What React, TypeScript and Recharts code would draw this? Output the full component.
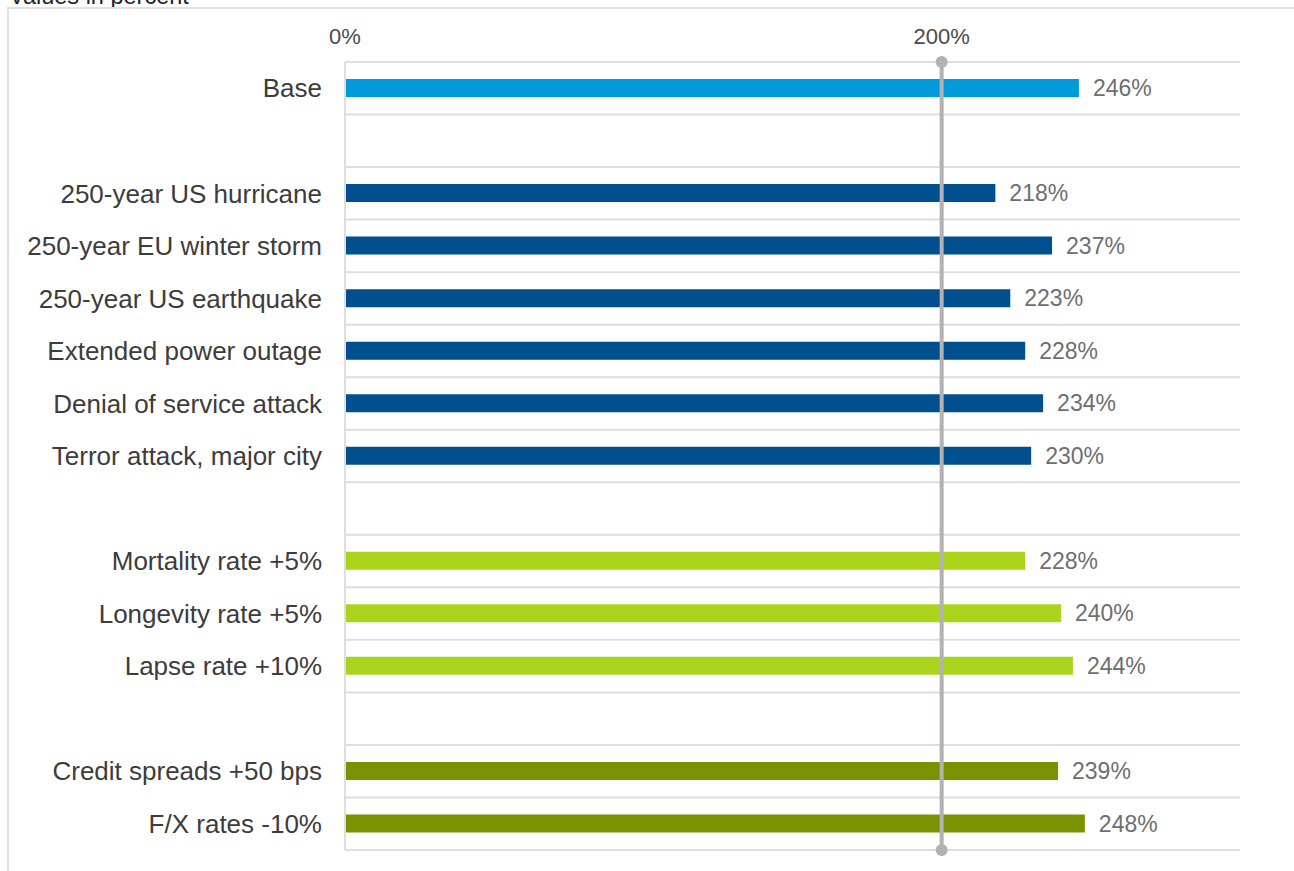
import {
  Bar,
  BarChart,
  CartesianGrid,
  Cell,
  LabelList,
  ReferenceLine,
  XAxis,
  YAxis,
} from 'recharts'

// Row labels top to bottom; '' marks the empty spacer rows between groups.
const CATEGORIES = [
  'Base',
  '',
  '250-year US hurricane',
  '250-year EU winter storm',
  '250-year US earthquake',
  'Extended power outage',
  'Denial of service attack',
  'Terror attack, major city',
  '',
  'Mortality rate +5%',
  'Longevity rate +5%',
  'Lapse rate +10%',
  '',
  'Credit spreads +50 bps',
  'F/X rates -10%',
]

const VALUES: Array<number | null> = [
  246, null, 218, 237, 223, 228, 234, 230, null, 228, 240, 244, null, 239, 248,
]

const GROUPS = [
  'base', '', 'event', 'event', 'event', 'event', 'event', 'event', '',
  'life', 'life', 'life', '', 'market', 'market',
]

const X_TICKS = [0, 200]
const THRESHOLD = 200

const GROUP_COLORS: Record<string, string> = {
  base: '#009ADB',
  event: '#004F8E',
  life: '#ABD51C',
  market: '#7B9200',
}

const data = CATEGORIES.map((label, i) => ({
  key: `r${i}`,
  label,
  value: VALUES[i],
  group: GROUPS[i],
}))

const labelFor = (key: string): string => data.find((d) => d.key === key)?.label ?? ''

// Separators sit on the row boundaries, not on the band centres.
const rowEdges = ({ offset }: { offset: { top: number; height: number } }) =>
  Array.from({ length: data.length + 1 }, (_, i) => offset.top + (i * offset.height) / data.length)

const GREY = '#b3b1b3'

// Threshold line with round caps at both ends.
const ThresholdShape = (p: { x1?: number; y1?: number; x2?: number; y2?: number }) => {
  const { x1 = 0, y1 = 0, x2 = 0, y2 = 0 } = p
  return (
    <g>
      <line x1={x1} y1={y1} x2={x2} y2={y2} stroke={GREY} strokeWidth={4} />
      <circle cx={x1} cy={y1} r={6} fill={GREY} />
      <circle cx={x2} cy={y2} r={6} fill={GREY} />
    </g>
  )
}

export default function App() {
  return (
    <div
      style={{
        position: 'absolute',
        left: 0,
        top: 0,
        width: 1294,
        height: 871,
        overflow: 'hidden',
        background: '#fff',
        fontFamily: '"Liberation Sans", Arial, sans-serif',
      }}
    >
      <div
        style={{
          position: 'absolute',
          left: 9,
          top: -15,
          fontSize: 23.5,
          lineHeight: '22px',
          color: '#222',
          whiteSpace: 'nowrap',
        }}
      >
        Values in percent
      </div>
      <div
        style={{
          position: 'absolute',
          left: 7,
          top: 7,
          right: 0,
          bottom: -4,
          borderTop: '2px solid #e0e0e0',
          borderLeft: '2px solid #e0e0e0',
        }}
      />
      <div style={{ position: 'absolute', left: 0, top: 0 }}>
        <BarChart
          width={1294}
          height={871}
          data={data}
          layout="vertical"
          margin={{ top: 0, right: 54, bottom: 21, left: 0 }}
        >
          <CartesianGrid
            vertical={false}
            horizontalCoordinatesGenerator={rowEdges}
            stroke="#dedede"
            strokeWidth={2}
          />
          <XAxis
            type="number"
            orientation="top"
            domain={[0, 300]}
            ticks={X_TICKS}
            tickFormatter={(v: number) => `${v}%`}
            height={62}
            axisLine={false}
            tickLine={false}
            tickSize={0}
            tickMargin={18}
            tick={{ fill: '#4a4a4a', fontSize: 22 }}
          />
          <YAxis
            type="category"
            dataKey="key"
            width={345}
            tickFormatter={labelFor}
            axisLine={{ stroke: '#dedede', strokeWidth: 2 }}
            tickLine={false}
            tickSize={0}
            tickMargin={23}
            tick={{ fill: '#3c3c3c', fontSize: 26 }}
            interval={0}
          />
          <Bar dataKey="value" barSize={18} isAnimationActive={false}>
            {data.map((d) => (
              <Cell key={d.key} fill={GROUP_COLORS[d.group] ?? 'transparent'} />
            ))}
            <LabelList
              dataKey="value"
              position="right"
              offset={14}
              formatter={(v: unknown) => (v == null ? '' : `${v}%`)}
              fill="#6e6e6e"
              fontSize={23}
            />
          </Bar>
          <ReferenceLine x={THRESHOLD} shape={ThresholdShape} />
        </BarChart>
      </div>
    </div>
  )
}
